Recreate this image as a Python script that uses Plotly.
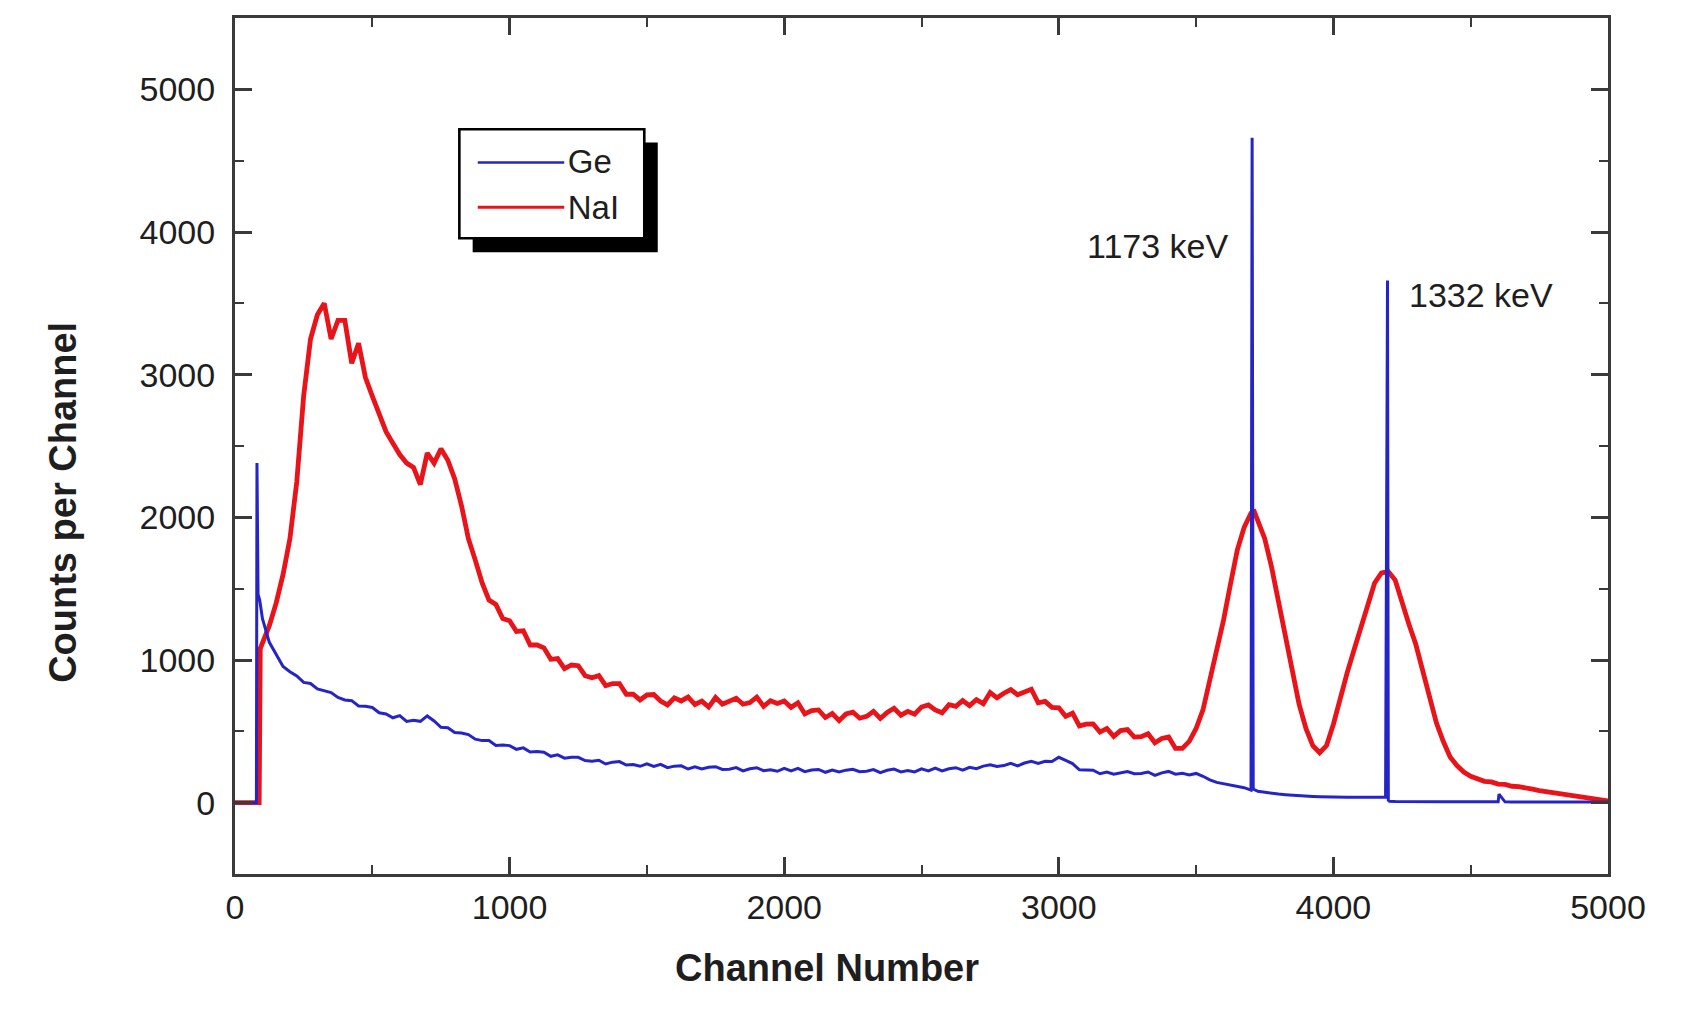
import plotly.graph_objects as go

# ---------------- data ----------------
channel_grid = list(range(0, 5001, 25))

nai_counts = [
    0, 0, 0, 0,
    1120, 1240, 1400, 1600,
    1850, 2250, 2850, 3250,
    3420, 3500, 3250, 3380,
    3380, 3080, 3220, 2980,
    2850, 2720, 2600, 2520,
    2440, 2380, 2350, 2230,
    2450, 2380, 2480, 2400,
    2270, 2080, 1850, 1700,
    1540, 1420, 1390, 1290,
    1275, 1200, 1205, 1105,
    1105, 1085, 1005, 1010,
    940, 965, 960, 890,
    875, 890, 820, 835,
    835, 760, 760, 720,
    755, 758, 712, 685,
    735, 713, 740, 688,
    712, 670, 737, 690,
    715, 732, 690, 702,
    740, 675, 715, 695,
    713, 668, 700, 622,
    645, 650, 597, 625,
    575, 622, 635, 592,
    605, 640, 590, 633,
    662, 613, 640, 620,
    670, 685, 650, 630,
    687, 675, 715, 680,
    722, 694, 772, 735,
    767, 792, 757, 778,
    795, 700, 710, 668,
    665, 605, 627, 538,
    550, 552, 495, 520,
    465, 505, 512, 460,
    463, 483, 420, 450,
    460, 380, 380, 430,
    520, 650, 850, 1060,
    1280, 1530, 1770, 1930,
    2030, 1980, 1850, 1650,
    1400, 1160, 920, 690,
    520, 400, 350, 400,
    550, 740, 910, 1070,
    1230, 1400, 1540, 1610,
    1620, 1560, 1400, 1250,
    1110, 920, 740, 560,
    430, 320, 260, 215,
    185, 170, 150, 145,
    130, 128, 115, 112,
    100, 95, 85, 78,
    68, 62, 50, 44,
    35, 30, 22, 16,
    12,
]
nai_extra_channels = [88, 92, 3712]
nai_extra_counts = [0, 1080, 2040]

ge_counts = [
    0, 0, 0, 0,
    1290, 1124, 1042, 955,
    918, 888, 843, 835,
    797, 786, 772, 737,
    720, 715, 678, 676,
    667, 630, 622, 595,
    610, 569, 577, 570,
    608, 573, 528, 525,
    492, 488, 477, 445,
    435, 435, 401, 404,
    400, 374, 384, 355,
    358, 353, 325, 335,
    312, 318, 318, 295,
    291, 297, 271, 284,
    288, 264, 268, 255,
    272, 254, 269, 245,
    256, 258, 236, 251,
    236, 248, 252, 233,
    235, 246, 223, 238,
    245, 224, 231, 220,
    240, 223, 240, 217,
    229, 233, 213, 229,
    215, 228, 234, 217,
    220, 232, 210, 227,
    235, 216, 225, 216,
    237, 223, 243, 223,
    238, 245, 228, 248,
    238, 256, 266, 253,
    260, 276, 258, 278,
    290, 275, 290, 288,
    318, 296, 274, 230,
    231, 228, 203, 215,
    199, 211, 218, 203,
    205, 215, 191, 209,
    219, 200, 206, 195,
    205, 185, 160, 142,
    132, 122, 112, 105,
    88, 80, 72, 66,
    60, 56, 52, 48,
    46, 44, 42, 40,
    40, 39, 38, 38,
    38, 38, 39, 40,
    8, 8, 7, 7,
    7, 7, 6, 6,
    6, 6, 6, 6,
    6, 6, 6, 6,
    6, 6, 5, 5,
    5, 5, 5, 5,
    5, 5, 5, 5,
    5, 5, 5, 5,
    5,
]
ge_extra_channels = [78, 80, 84, 90, 3700, 3704, 3708, 4190, 4197, 4200, 4603]
ge_extra_counts = [0, 2380, 1460, 1420, 135, 4660, 95, 40, 3660, 10, 60]

peak_labels = ["1173 keV", "1332 keV"]
peak_label_channels = [3623, 4268]
peak_label_counts = [3900, 3560]

legend_names = ["Ge", "NaI"]

x_ticks = [0, 1000, 2000, 3000, 4000, 5000]
y_ticks = [0, 1000, 2000, 3000, 4000, 5000]


def merge(xs, ys, ex, ey):
    pts = sorted(list(zip(xs, ys)) + list(zip(ex, ey)), key=lambda p: p[0])
    return [p[0] for p in pts], [p[1] for p in pts]


ge_x, ge_y = merge(channel_grid, ge_counts, ge_extra_channels, ge_extra_counts)
nai_x, nai_y = merge(channel_grid, nai_counts, nai_extra_channels, nai_extra_counts)

# ---------------- figure ----------------
BLUE = "#2424c8"
RED = "#e8141a"
INK = "#1e1e1e"
AXIS = "#3a3a3a"
FONT = "Liberation Sans, Arial, sans-serif"
RED_W = 4.8
BLUE_W = 3.0

fig = go.Figure()
fig.add_trace(go.Scatter(x=nai_x, y=nai_y, mode="lines", name="NaI", legendgroup="NaI",
                         line=dict(color=RED, width=RED_W), showlegend=False))
fig.add_trace(go.Scatter(x=ge_x, y=ge_y, mode="lines", name="Ge", legendgroup="Ge",
                         line=dict(color=BLUE, width=BLUE_W), showlegend=False))
# legend entries (their long sample lines are drawn in the framed box below)
for nm, col in zip(legend_names, [BLUE, RED]):
    fig.add_trace(go.Scatter(x=[None], y=[None], mode="lines", name=nm, legendgroup=nm,
                             line=dict(color=col, width=0)))

for txt, cx, cy, anchor in zip(peak_labels, peak_label_channels, peak_label_counts, ["right", "left"]):
    fig.add_annotation(x=cx, y=cy, xref="x", yref="y", text=txt, showarrow=False,
                       xanchor=anchor, yanchor="middle",
                       font=dict(family=FONT, size=34, color=INK))

# axis titles (placed like the reference, off-centre)
fig.add_annotation(x=0.431, y=-0.11, xref="paper", yref="paper", text="<b>Channel Number</b>",
                   showarrow=False, xanchor="center", yanchor="middle",
                   font=dict(family=FONT, size=38, color=INK))
fig.add_annotation(x=-0.125, y=0.434, xref="paper", yref="paper", text="<b>Counts per Channel</b>",
                   showarrow=False, xanchor="center", yanchor="middle", textangle=-90,
                   font=dict(family=FONT, size=38, color=INK))

# legend frame with drop shadow, and long sample lines
fig.add_shape(type="rect", xref="paper", yref="paper",
              x0=0.1731, x1=0.3079, y0=0.7264, y1=0.8545,
              fillcolor="black", line=dict(width=0), layer="above")
fig.add_shape(type="rect", xref="paper", yref="paper",
              x0=0.1634, x1=0.2981, y0=0.7427, y1=0.8700,
              fillcolor="white", line=dict(color="black", width=2.6), layer="above")
fig.add_shape(type="line", xref="paper", yref="paper",
              x0=0.1768, x1=0.2398, y0=0.8312, y1=0.8312,
              line=dict(color=BLUE, width=2.6), layer="above")
fig.add_shape(type="line", xref="paper", yref="paper",
              x0=0.1768, x1=0.2398, y0=0.7788, y1=0.7788,
              line=dict(color=RED, width=3.0), layer="above")

axis_common = dict(
    showgrid=False, zeroline=False, showline=True, linewidth=3, linecolor=AXIS,
    mirror="ticks", ticks="inside", ticklen=17, tickwidth=2.5, tickcolor=AXIS,
    tickfont=dict(family=FONT, size=34, color=INK),
    minor=dict(ticks="inside", ticklen=9, tickwidth=2, tickcolor=AXIS, dtick=500, tick0=0),
)
fig.update_xaxes(range=[0, 5000], tickvals=x_ticks, ticktext=[str(v) for v in x_ticks],
                 ticklabelstandoff=1, **axis_common)
fig.update_yaxes(range=[-500, 5500], tickvals=y_ticks, ticktext=[str(v) for v in y_ticks],
                 ticklabelstandoff=10, **axis_common)

fig.update_layout(
    width=1692, height=997,
    margin=dict(l=227, r=92, t=7, b=131),
    paper_bgcolor="white", plot_bgcolor="white",
    font=dict(family=FONT, color=INK),
    legend=dict(x=0.2132, y=0.8667, xanchor="left", yanchor="top",
                bgcolor="rgba(0,0,0,0)", borderwidth=0,
                font=dict(family=FONT, size=33, color=INK),
                itemwidth=30, tracegroupgap=0),
)

fig.write_html("out.html")
